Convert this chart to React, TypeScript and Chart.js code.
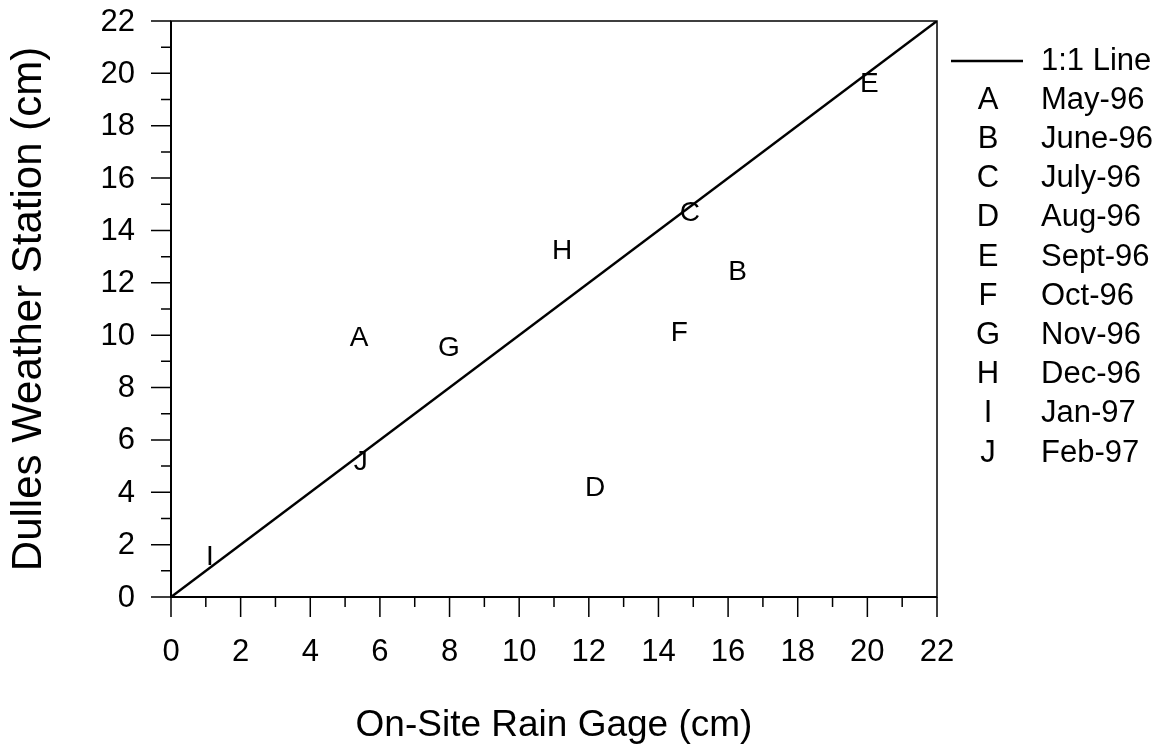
import React, { useEffect, useRef } from 'react';
import { Chart, registerables } from 'chart.js';

Chart.register(...registerables);

// ---- data ----
const markerLetters = ['A', 'B', 'C', 'D', 'E', 'F', 'G', 'H', 'I', 'J'];
const monthLabels = ['May-96', 'June-96', 'July-96', 'Aug-96', 'Sept-96', 'Oct-96', 'Nov-96', 'Dec-96', 'Jan-97', 'Feb-97'];
const onSiteCm = [5.4, 16.27, 14.9, 12.18, 20.06, 14.6, 7.98, 11.23, 1.12, 5.45];
const dullesCm = [9.87, 12.39, 14.66, 4.16, 19.6, 10.08, 9.51, 13.19, 1.52, 5.15];
const oneToOneX = [0, 22];
const oneToOneY = [0, 22];
const majorTicks = [0, 2, 4, 6, 8, 10, 12, 14, 16, 18, 20, 22];
const minorTicks = [1, 3, 5, 7, 9, 11, 13, 15, 17, 19, 21];
const xTitle = 'On-Site Rain Gage (cm)';
const yTitle = 'Dulles Weather Station (cm)';
const lineLegendLabel = '1:1 Line';

const FONT = '"Liberation Sans", Arial, Helvetica, sans-serif';

const drawPlugin = {
  id: 'customDraw',
  afterDatasetsDraw(chart: any) {
    const ctx = chart.ctx as CanvasRenderingContext2D;
    const { left, right, top, bottom } = chart.chartArea;
    const xs = chart.scales.x;
    const ys = chart.scales.y;
    ctx.save();
    ctx.fillStyle = '#000';
    ctx.strokeStyle = '#000';

    // letters at points
    const meta = chart.getDatasetMeta(1);
    ctx.font = `28px ${FONT}`;
    ctx.textAlign = 'center';
    ctx.textBaseline = 'middle';
    meta.data.forEach((pt: any, i: number) => {
      ctx.fillText(markerLetters[i], pt.x, pt.y);
    });

    // frame
    ctx.lineWidth = 1.5;
    ctx.strokeRect(left, top, right - left, bottom - top);
    ctx.lineWidth = 2;
    ctx.beginPath();
    ctx.moveTo(left, top);
    ctx.lineTo(left, bottom);
    ctx.lineTo(right, bottom);
    ctx.stroke();

    // ticks
    ctx.lineWidth = 1.5;
    ctx.beginPath();
    majorTicks.forEach((v) => {
      const px = xs.getPixelForValue(v);
      ctx.moveTo(px, bottom);
      ctx.lineTo(px, bottom + 20);
      const py = ys.getPixelForValue(v);
      ctx.moveTo(left, py);
      ctx.lineTo(left - 20, py);
    });
    minorTicks.forEach((v) => {
      const px = xs.getPixelForValue(v);
      ctx.moveTo(px, bottom);
      ctx.lineTo(px, bottom + 10);
      const py = ys.getPixelForValue(v);
      ctx.moveTo(left, py);
      ctx.lineTo(left - 10, py);
    });
    ctx.stroke();

    // tick labels
    ctx.font = `31px ${FONT}`;
    ctx.textAlign = 'center';
    ctx.textBaseline = 'alphabetic';
    majorTicks.forEach((v) => {
      ctx.fillText(String(v), xs.getPixelForValue(v), bottom + 64);
    });
    ctx.textAlign = 'right';
    ctx.textBaseline = 'middle';
    majorTicks.forEach((v) => {
      ctx.fillText(String(v), left - 36, ys.getPixelForValue(v) + 1);
    });

    // axis titles
    ctx.font = `37px ${FONT}`;
    ctx.textAlign = 'center';
    ctx.textBaseline = 'alphabetic';
    ctx.fillText(xTitle, (left + right) / 2, bottom + 139);
    ctx.save();
    ctx.font = `42px ${FONT}`;
    ctx.translate(41, (top + bottom) / 2);
    ctx.rotate(-Math.PI / 2);
    ctx.fillText(yTitle, 0, 0);
    ctx.restore();

    // legend
    const rowH = 39.2;
    const row0 = 61;
    ctx.lineWidth = 2.5;
    ctx.beginPath();
    ctx.moveTo(951, row0);
    ctx.lineTo(1023, row0);
    ctx.stroke();
    ctx.font = `31px ${FONT}`;
    ctx.textBaseline = 'middle';
    ctx.textAlign = 'left';
    ctx.fillText(lineLegendLabel, 1041, row0);
    markerLetters.forEach((l, i) => {
      const y = row0 + rowH * (i + 1);
      ctx.textAlign = 'center';
      ctx.fillText(l, 988, y);
      ctx.textAlign = 'left';
      ctx.fillText(monthLabels[i], 1041, y);
    });
    ctx.restore();
  },
};

export default function App() {
  const canvasRef = useRef<HTMLCanvasElement | null>(null);

  useEffect(() => {
    document.body.style.margin = '0';
    const canvas = canvasRef.current;
    if (!canvas) return;
    const chart = new Chart(canvas, {
      type: 'scatter',
      data: {
        datasets: [
          {
            type: 'line',
            label: lineLegendLabel,
            data: oneToOneX.map((x, i) => ({ x, y: oneToOneY[i] })),
            borderColor: '#000',
            borderWidth: 2.5,
            pointRadius: 0,
            fill: false,
            tension: 0,
          } as any,
          {
            type: 'scatter',
            label: 'months',
            data: onSiteCm.map((x, i) => ({ x, y: dullesCm[i] })),
            pointRadius: 0,
            pointHoverRadius: 0,
            backgroundColor: 'transparent',
            borderColor: 'transparent',
          },
        ],
      },
      options: {
        responsive: false,
        animation: false,
        events: [],
        layout: { padding: { left: 171, right: 227, top: 21, bottom: 157 } },
        plugins: { legend: { display: false }, tooltip: { enabled: false } },
        scales: {
          x: { type: 'linear', min: 0, max: 22, display: false },
          y: { type: 'linear', min: 0, max: 22, display: false },
        },
      },
      plugins: [drawPlugin],
    });
    return () => chart.destroy();
  }, []);

  return (
    <div style={{ width: 1164, height: 754, background: '#fff' }}>
      <canvas ref={canvasRef} width={1164} height={754} style={{ display: 'block' }} />
    </div>
  );
}
